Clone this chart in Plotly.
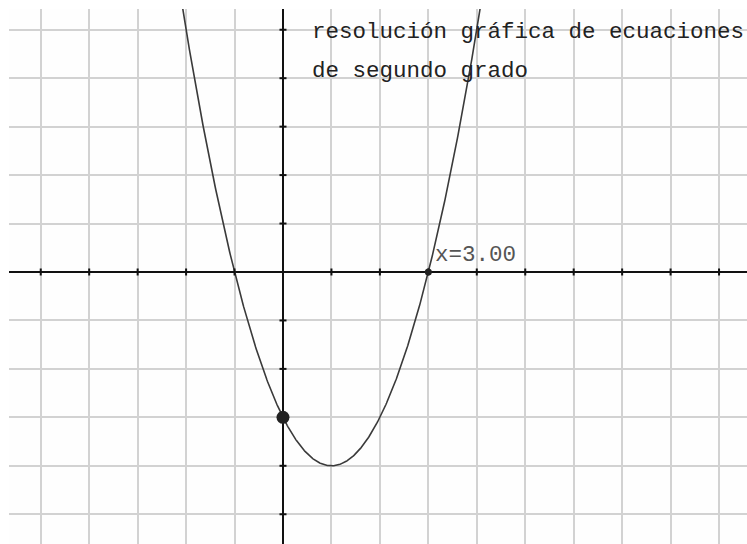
import numpy as np
import plotly.graph_objects as go

# Quadratic y = a*x^2 + b*x + c
coef_a = 1.0
coef_b = -2.0
coef_c = -3.0

# Marked root and y-intercept
root_x = [3.00]
root_y = [0.0]
intercept_x = [0.0]
intercept_y = [coef_c]

title_lines = ["resolución gráfica de ecuaciones", "de segundo grado"]

x_ticks = [v for v in range(-5, 10) if v != 0]
y_ticks = [v for v in range(-5, 6) if v != 0]

x_range = [-5.655, 9.577]
y_range = [-5.614, 5.428]

xs = np.linspace(-2.2, 4.2, 600)
ys = coef_a * xs**2 + coef_b * xs + coef_c

fig = go.Figure()

# Parabola
fig.add_trace(go.Scatter(x=xs, y=ys, mode="lines",
                         line=dict(color="#3a3a3a", width=1.6),
                         hoverinfo="skip", showlegend=False))

# Tick marks on the coordinate axes
fig.add_trace(go.Scatter(x=x_ticks, y=[0] * len(x_ticks), mode="markers",
                         marker=dict(symbol="line-ns", size=5,
                                     line=dict(width=2, color="#111")),
                         hoverinfo="skip", showlegend=False))
fig.add_trace(go.Scatter(x=[0] * len(y_ticks), y=y_ticks, mode="markers",
                         marker=dict(symbol="line-ew", size=5,
                                     line=dict(width=2, color="#111")),
                         hoverinfo="skip", showlegend=False))

# Root and y-intercept points
fig.add_trace(go.Scatter(x=root_x, y=root_y, mode="markers",
                         marker=dict(size=7, color="#222"),
                         hoverinfo="skip", showlegend=False))
fig.add_trace(go.Scatter(x=intercept_x, y=intercept_y, mode="markers",
                         marker=dict(size=13, color="#222"),
                         hoverinfo="skip", showlegend=False))

fig.add_annotation(x=root_x[0], y=root_y[0], text=f"x={root_x[0]:.2f}",
                   xanchor="left", yanchor="bottom", xshift=5, yshift=2,
                   showarrow=False,
                   font=dict(family="Liberation Mono", size=22.5, color="#555"))

for i, line in enumerate(title_lines):
    fig.add_annotation(x=0.56, y=4.96 - 0.81 * i, text=line,
                       xanchor="left", yanchor="middle", showarrow=False,
                       font=dict(family="Liberation Mono", size=22.5, color="#222"))

axis_common = dict(showgrid=True, gridcolor="#d2d2d2", gridwidth=2,
                   dtick=1, tick0=0, showticklabels=False, ticks="",
                   zeroline=True, zerolinecolor="#111", zerolinewidth=2,
                   showline=False, fixedrange=True)

fig.update_xaxes(range=x_range, **axis_common)
fig.update_yaxes(range=y_range, **axis_common)

fig.update_layout(width=747, height=544,
                  margin=dict(l=9, r=0, t=9, b=0),
                  paper_bgcolor="white", plot_bgcolor="#fefefe",
                  showlegend=False)

fig.write_html("out.html")
